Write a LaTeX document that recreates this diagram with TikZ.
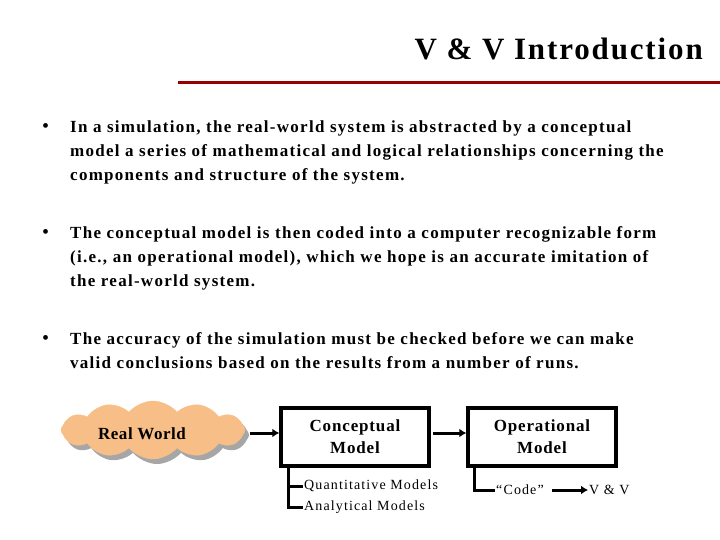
\documentclass[tikz,border=0pt]{standalone}
\usepackage{fontspec}
\setmainfont{Liberation Serif}
\usetikzlibrary{shapes.symbols,shadows,arrows.meta}
\definecolor{rule}{HTML}{990000}
\definecolor{cloudfill}{HTML}{F8BE88}
\tikzset{
  line/.style={anchor=base west,font=\bfseries\fontsize{17}{20}\selectfont\addfontfeature{LetterSpace=7.5},inner sep=0},
  bul/.style={anchor=base west,font=\fontsize{20}{22}\selectfont,inner sep=0},
  box/.style={draw,line width=3.5pt,minimum width=148pt,minimum height=58pt,align=center,font=\bfseries\fontsize{17}{22}\selectfont\addfontfeature{LetterSpace=5}},
  small/.style={anchor=west,font=\fontsize{14}{16}\selectfont\addfontfeature{LetterSpace=8},inner sep=1pt},
  arr/.style={line width=3pt,-{Latex[length=7pt,width=9pt]}}
}
\begin{document}
\begin{tikzpicture}[x=1pt,y=-1pt]
\useasboundingbox (0,0) rectangle (720,540);
\node[anchor=base east,inner sep=0,font=\bfseries\fontsize{31}{34}\selectfont\addfontfeature{LetterSpace=6}] (title) at (703,60) {V \& V Introduction};
\draw[rule,line width=3pt] (178,83) -- (720,83);
\node[bul] (b1) at (42,133) {•};
\node[line] (l1) at (70,133) {In a simulation, the real-world system is abstracted by a conceptual};
\node[line] (l2) at (70,157) {model a series of mathematical and logical relationships concerning the};
\node[line] (l3) at (70,181) {components and structure of the system.};
\node[bul] (b2) at (42,238) {•};
\node[line] (l4) at (70,238) {The conceptual model is then coded into a computer recognizable form};
\node[line] (l5) at (70,262) {(i.e., an operational model), which we hope is an accurate imitation of};
\node[line] (l6) at (70,286) {the real-world system.};
\node[bul] (b3) at (42,344) {•};
\node[line] (l7) at (70,344) {The accuracy of the simulation must be checked before we can make};
\node[line] (l8) at (70,368) {valid conclusions based on the results from a number of runs.};
\node[cloud,cloud puffs=12,cloud puff arc=100,aspect=3.2,fill=cloudfill,draw=cloudfill,minimum width=184pt,minimum height=58pt,
  drop shadow={shadow xshift=4pt,shadow yshift=-5pt,fill=gray!70,opacity=1}] (rw) at (153,430) {};
\node[anchor=base,inner sep=0,font=\bfseries\fontsize{17}{20}\selectfont\addfontfeature{LetterSpace=3}] (rwt) at (142,439) {Real World};
\node[box] (cm) at (355,437) {Conceptual\\Model};
\node[box] (om) at (542,437) {Operational\\Model};
\coordinate (s1) at (250,433);
\draw[arr] (s1) -- (s1 -| cm.west);
\coordinate (s2) at (433,433);
\draw[arr] (s2) -- (s2 -| om.west);
\node[small] (q) at (303,486) {Quantitative Models};
\node[small] (a) at (303,507) {Analytical Models};
\draw[line width=3pt] (288,468) |- (q.west);
\draw[line width=3pt] (288,486) |- (a.west);
\node[small] (code) at (495,490) {“Code”};
\node[small] (vv) at (588,490) {V \& V};
\draw[line width=3pt] (474,468) |- (code.west);
\coordinate (c0) at (552,490);
\draw[arr] (c0) -- (vv.west);
\end{tikzpicture}
\end{document}
